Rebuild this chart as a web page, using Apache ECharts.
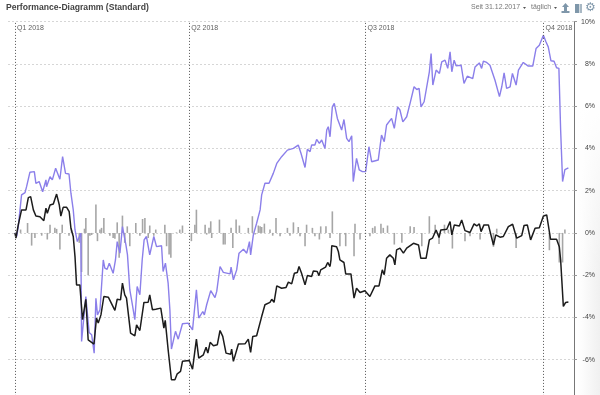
<!DOCTYPE html>
<html><head><meta charset="utf-8">
<style>html,body{margin:0;padding:0;background:#fff}#c{width:600px;height:395px}</style>
<script src="https://cdn.jsdelivr.net/npm/echarts@6/dist/echarts.min.js"></script>
</head><body><div id="c"></div>
<script>
// Days since 1 Jan 2018, value in %
const titleText = 'Performance-Diagramm (Standard)';
const rangeText = 'Seit 31.12.2017';
const freqText = 'täglich';
const quarterDays = [0, 90, 181, 273];
const quarterLabels = ['Q1 2018', 'Q2 2018', 'Q3 2018', 'Q4 2018'];
const fundLine = [[0,0],[0.9,-0.17],[1.7,0.3],[3.4,1.8],[5.2,1.91],[6,2.19],[7.7,2.87],[10,2.9],[10.8,2.35],[12.5,2.43],[14.3,1.95],[15.1,1.88],[16,2.51],[16.3,2.19],[18.1,2.66],[19.3,2.51],[21,3.06],[21.8,3.09],[23.2,2.54],[24.6,3.61],[26.1,2.82],[27.9,2.79],[28.9,1.88],[30.1,1.09],[31,0.14],[32.2,-0.41],[33.2,-0.49],[34,-0.02],[34.4,-5.14],[36.6,-3.01],[38.3,-4.71],[39.6,-4.82],[40.9,-5.69],[41.8,-3.09],[42.6,-3.88],[43.9,-3.64],[45.6,-1.28],[46.4,-1.67],[47.6,-1.72],[48.7,-1.43],[50.7,-1.91],[51.9,-1.28],[52.8,-0.41],[54.2,-0.96],[55.5,0.3],[57.3,-0.57],[58.1,-1.04],[59.3,-2.69],[60.5,-3.32],[61.9,-4.11],[63.1,-2.54],[64.5,-2.93],[65.7,-1.28],[66.7,-0.33],[67.9,-0.17],[69.6,-1.04],[71.7,-0.17],[73.1,-0.65],[75.7,-0.61],[76.5,-1.83],[77.7,-1.43],[79.1,-2.38],[80,-3.64],[80.8,-5.5],[81.7,-5.5],[82.9,-4.66],[84.3,-5.03],[85.1,-4.98],[86.5,-4.3],[89.4,-4.27],[91.7,-4.59],[93.7,-2.69],[94.9,-4.03],[95.6,-4.11],[97,-3.72],[97.8,-3.88],[99,-3.4],[99.9,-3.48],[101.1,-2.73],[102,-2.77],[103.3,-3.06],[104.2,-2.77],[105.9,-1.59],[107.6,-1.87],[111.1,-1.94],[111.6,-1.62],[112.8,-2.22],[114.5,-1.75],[115.7,-0.96],[118,-0.77],[119.7,-0.96],[121.1,-0.41],[121.7,-1.04],[123.1,-0.09],[124.8,0.46],[126.6,1.09],[127.4,1.8],[129.1,2.35],[131.2,2.35],[133.4,2.82],[135.2,3.29],[137.7,3.61],[140.7,3.92],[143.8,4],[146.3,4.16],[147.7,3.77],[149.8,3.1],[151,3.96],[152.4,3.85],[153.2,4.16],[154.9,4.16],[155.8,4.43],[157.2,4.24],[158.4,4.4],[160.1,4],[161,4.87],[161.8,5.03],[162.7,4.55],[163.9,5.97],[164.9,6.13],[166.5,5.42],[168.7,4.87],[169.9,5.37],[171.3,4.48],[172.5,4.32],[173.9,4.6],[174.7,2.43],[176.4,3.53],[177.8,2.98],[179.4,2.9],[181.1,2.9],[181.6,2.82],[182.8,4.08],[184.2,3.37],[187.6,3.45],[189.3,4.63],[190.7,4.32],[191.9,5.11],[194.5,5.42],[195.9,4.95],[197.6,5.97],[198.8,5.82],[200.3,5.26],[202.3,5.5],[204.1,6.16],[206.1,6.92],[207.5,6.79],[208.7,6.84],[209.7,5.97],[211.3,6.21],[212.3,6.29],[214,7.63],[214.9,8.49],[215.8,7],[217.5,7.71],[219.2,7.55],[220.4,8.1],[222.1,8.18],[223.5,7.79],[224.7,8.57],[225.6,7.63],[226.8,8.18],[227.8,7.91],[230.4,7.94],[231.9,7.08],[233.6,7.42],[236.4,7.31],[237.6,7.86],[238.5,7.79],[239.8,8.05],[241,7.79],[241.9,8.13],[243.6,8.07],[245.3,7.94],[247.9,7.23],[248.8,7.27],[250.2,6.45],[251.4,6.92],[252.6,7.58],[253.9,6.84],[255.7,6.92],[256.9,7.55],[258.8,7],[260,7.71],[262.5,8.07],[265.1,7.9],[267.4,7.9],[269.1,8.73],[270.8,8.89],[272.9,9.36],[274.2,9.05],[275.4,8.81],[276.8,8.15],[278.4,8.13],[279.7,7.82],[280.9,7.79],[281.8,4.87],[282.8,2.43],[284,3],[285.8,3.08]];
const benchLine = [[0,0],[0.5,-0.25],[1.7,0.38],[2.6,0.46],[3.4,1.09],[5.7,1.09],[6.9,1.67],[8.1,1.72],[9.5,1.09],[10.8,0.8],[12.9,0.77],[14.9,0.58],[16,1.17],[16.7,0.93],[18.1,1.32],[19.8,1.37],[21.5,1.84],[22.9,1.32],[23.7,0.8],[24.9,1.21],[26.7,1.21],[28,1.01],[28.9,0.22],[30.1,-0.17],[31,-1.12],[31.8,-2.46],[33.5,-2.46],[34.9,-4.11],[36.6,-3.14],[37.8,-5.06],[40.8,-5.26],[42.1,-4.03],[43,-4.27],[44.4,-3.88],[45.9,-3.01],[48.2,-3.04],[51.6,-3.67],[52.8,-3.14],[54.5,-3.17],[55.5,-2.38],[56.7,-2.93],[57.6,-3.09],[59.7,-4.74],[61.9,-4.87],[62.8,-4.35],[64.5,-4.62],[66.6,-3.29],[68.8,-3.28],[69.6,-2.93],[71,-3.64],[72.7,-3.61],[75.3,-3.56],[76.9,-4.51],[77.6,-4.14],[79.1,-5.53],[80.8,-6.95],[82.6,-6.95],[83.8,-6.67],[85.5,-6.56],[86.5,-6.08],[90,-6.04],[91.7,-6.45],[93.7,-5.03],[94.9,-5.93],[95.6,-5.93],[97.3,-5.77],[98.7,-5.41],[99.6,-5.69],[100.8,-5.18],[102.5,-5.34],[104.5,-5.29],[105.9,-4.62],[107.3,-4.9],[109,-5.69],[111.4,-5.74],[111.9,-5.5],[112.8,-6.08],[113.7,-6.16],[115.4,-5.26],[118.8,-5.25],[120.5,-5.03],[121.7,-5.66],[122.8,-4.9],[124.8,-4.87],[127.4,-3.96],[129.1,-3.4],[131.7,-3.29],[132.6,-3.14],[133.8,-3.29],[135.2,-2.51],[137.7,-2.62],[140,-2.58],[141.2,-2.33],[142.9,-2.41],[144.3,-1.91],[145.8,-1.87],[146.7,-1.59],[148,-1.91],[149.8,-2.46],[151,-2.02],[153.2,-2.06],[154.1,-1.8],[156.1,-1.83],[157,-2.02],[157.9,-1.75],[160.4,-1.62],[161.5,-1.4],[162.7,-1.59],[163.2,-1.28],[163.6,-0.61],[166.1,-0.65],[167,-0.88],[167.8,-1.28],[169.9,-1.4],[170.8,-1.94],[173.5,-1.94],[175.1,-3.09],[176.4,-2.62],[178.2,-2.82],[180.7,-2.74],[183.3,-3.01],[185.9,-2.51],[188,-2.51],[189.7,-1.75],[190.7,-1.98],[191.9,-1.2],[193.6,-1.04],[195.4,-1.2],[196.2,-1.51],[197.1,-0.8],[198.8,-0.72],[200.6,-0.96],[202.3,-0.72],[205.8,-0.49],[208.4,-0.57],[209.6,-1.2],[212.3,-1.2],[214,-0.33],[215.6,-0.25],[217.5,0.14],[219,-0.22],[219.9,0.14],[223,0.17],[224.7,0.54],[225.6,-0.09],[226.9,0.38],[229.5,0.33],[230.7,0.61],[232.4,0.11],[235,0.02],[237.1,0.43],[238.5,0.33],[239.8,0.43],[240.7,0.06],[242.2,0.38],[244.5,0.38],[247.1,-0.57],[248.3,-0.09],[250.5,-0.2],[252.2,-0.17],[254.8,0.3],[257,0.41],[259.1,-0.25],[261.7,-0.13],[262.9,0.35],[264.6,0.38],[266.3,-0.33],[268.6,0.22],[270.8,0.25],[272.9,0.8],[274.6,0.85],[276.6,-0.3],[279.7,-0.3],[281.1,-0.65],[281.8,-1.28],[283.2,-3.48],[284.4,-3.29],[285.8,-3.27]];
const diffBars = [[2.9,0.16],[6.5,0.47],[8.6,-0.6],[10.3,-0.24],[13.8,-0.13],[16.7,-0.31],[18.1,0.39],[20.6,0.24],[21.5,0.19],[23.2,-0.79],[24.4,0.39],[27.9,-0.13],[29.2,0.16],[33.2,-0.47],[34.4,-1.85],[35.9,0.2],[36.6,0.71],[37.8,-2],[38.7,-0.13],[39.6,-0.1],[41.8,1.34],[42.6,-0.39],[43.9,0.16],[44.7,0.24],[45.9,0.71],[49,-0.13],[50.7,-0.24],[51.6,-0.28],[52.8,0.5],[53.8,-1.18],[55.5,0.82],[56.7,-0.47],[58,0.31],[59.3,-0.63],[62.4,0.47],[64.5,-0.13],[65.9,0.66],[67.1,0.71],[68.8,-0.24],[69.6,0.35],[71.7,-0.13],[72.7,0.16],[77.4,0.39],[78.3,-0.63],[79.6,-1.02],[80.5,-1.18],[83.4,0.03],[85.1,0.16],[86.5,0.35],[91.1,-0.39],[92.9,0.39],[93.7,1.1],[98.2,0.39],[99,-0.08],[100.2,0.24],[101.1,0.55],[101.6,-0.24],[105.6,0.63],[107.6,-0.55],[108.5,-0.55],[111.6,0.24],[112.5,-0.71],[114.2,0.63],[115.9,0.35],[120.5,0.24],[122.6,0.79],[124,-0.08],[125.7,0.35],[126.6,0.31],[127.4,0.28],[128.8,0.44],[131.7,0.16],[133.1,-0.13],[134.8,0.71],[136.9,-0.16],[140.7,0.24],[142,-0.13],[143.8,0.5],[146.3,0.28],[147.2,-0.16],[149.8,-0.63],[150.6,0.39],[153.6,0.24],[154.9,-0.16],[157.2,-0.31],[157.9,0.31],[160.6,0.31],[162.7,-0.24],[163.9,1.02],[167.8,-0.63],[170.4,-0.08],[170.8,-0.63],[175.1,-1.1],[175.6,0.43],[178.2,-0.31],[181.1,-0.03],[183.3,-0.16],[184.7,0.24],[185.9,0.31],[189,0.44],[190.2,0.24],[192.4,0.35],[195.9,-0.55],[199.8,-0.47],[204.1,0.31],[206.1,0.28],[210.1,-0.63],[214,0.79],[217,0.39],[219,-0.52],[221.8,0.39],[223.8,0.16],[225.9,-0.74],[232.4,-0.39],[235,-0.16],[240.2,-0.31],[247.1,-0.66],[248.8,0.2],[258.8,-0.71],[272.9,-0.08],[276,-0.82],[281.1,-1.4],[282.8,-1.4],[284,0.16]];

const FONT = '"Liberation Sans", Arial, sans-serif';
const chart = echarts.init(document.getElementById('c'), null, {renderer:'canvas'});
const iconColor = '#7f97aa';
chart.setOption({
  animation:false,
  backgroundColor:'#fff',
  grid:{left:8, top:21.7, width:566, height:380.2, outerBoundsMode:'none', containLabel:false},
  xAxis:{type:'value', min:-3.6, max:288.7, show:false, splitLine:{show:false}},
  yAxis:{type:'value', position:'right', min:-8, max:10, interval:2,
    axisLine:{show:true, onZero:false, lineStyle:{color:'#777', width:1}},
    axisTick:{show:true, length:3, lineStyle:{color:'#999'}},
    axisLabel:{color:'#444', fontSize:7, fontFamily:FONT, margin:21, align:'right',
      formatter:v=> v===-8 ? '' : v+'%'},
    splitLine:{show:true, lineStyle:{color:'#d6d6d6', type:[2,2], width:1}}
  },
  series:[
    {type:'bar', name:'Differenz', data:diffBars, barWidth:1.6, z:2, silent:true,
      itemStyle:{color:'#a6a6a6'}},
    {type:'line', name:'Fonds', data:fundLine, showSymbol:false, z:3, silent:true,
      lineStyle:{color:'#8b7fea', width:1.4}},
    {type:'line', name:'Benchmark', data:benchLine, showSymbol:false, z:4, silent:true,
      lineStyle:{color:'#1c1c1c', width:1.5}},
    {type:'scatter', name:'Quartale', symbolSize:0, z:5, silent:true,
      data:quarterDays.map((d,i)=>({value:[d,10], name:quarterLabels[i]})),
      label:{show:true, position:'right', distance:2, offset:[0,6], formatter:p=>p.name,
        color:'#333', fontSize:7, fontFamily:FONT},
      markLine:{silent:true, symbol:'none', animation:false, label:{show:false},
        lineStyle:{color:'#555', type:[1,2], width:1},
        data:quarterDays.map(d=>({xAxis:d}))}
    }
  ],
  graphic:[
    {type:'rect', z:-2, silent:true, shape:{x:578,y:100,width:22,height:295},
      style:{fill:new echarts.graphic.LinearGradient(0,0,1,0,[{offset:0,color:'rgba(240,240,240,0)'},{offset:1,color:'rgba(240,240,240,1)'}])}},
    {type:'rect', z:-1, silent:true, shape:{x:578,y:100,width:22,height:180},
      style:{fill:new echarts.graphic.LinearGradient(0,0,0,1,[{offset:0,color:'rgba(255,255,255,1)'},{offset:1,color:'rgba(255,255,255,0)'}])}},
    {type:'text', left:6, top:3, style:{text:titleText, fill:'#444', font:'bold 8.6px '+FONT}},
    {type:'text', left:471, top:4, style:{text:rangeText, fill:'#777', font:'7px '+FONT}},
    {type:'polygon', shape:{points:[[523,7],[526,7],[524.5,9]]}, style:{fill:'#555'}},
    {type:'text', left:531, top:4, style:{text:freqText, fill:'#777', font:'7px '+FONT}},
    {type:'polygon', shape:{points:[[554,7],[557,7],[555.5,9]]}, style:{fill:'#555'}},
    {type:'polygon', shape:{points:[[565.5,3],[569,7],[567,7],[567,11],[564,11],[564,7],[562,7]]}, style:{fill:iconColor}},
    {type:'rect', shape:{x:561.5,y:11,width:8,height:2}, style:{fill:iconColor}},
    {type:'rect', shape:{x:575,y:4,width:4,height:9}, style:{fill:iconColor}},
    {type:'rect', shape:{x:579.5,y:4,width:2.5,height:9}, style:{fill:'#a9b9c5'}},
    {type:'text', left:585, top:1.5, style:{text:'\u2699', fill:iconColor, font:'12px "DejaVu Sans"'}}
  ]
});
</script></body></html>
